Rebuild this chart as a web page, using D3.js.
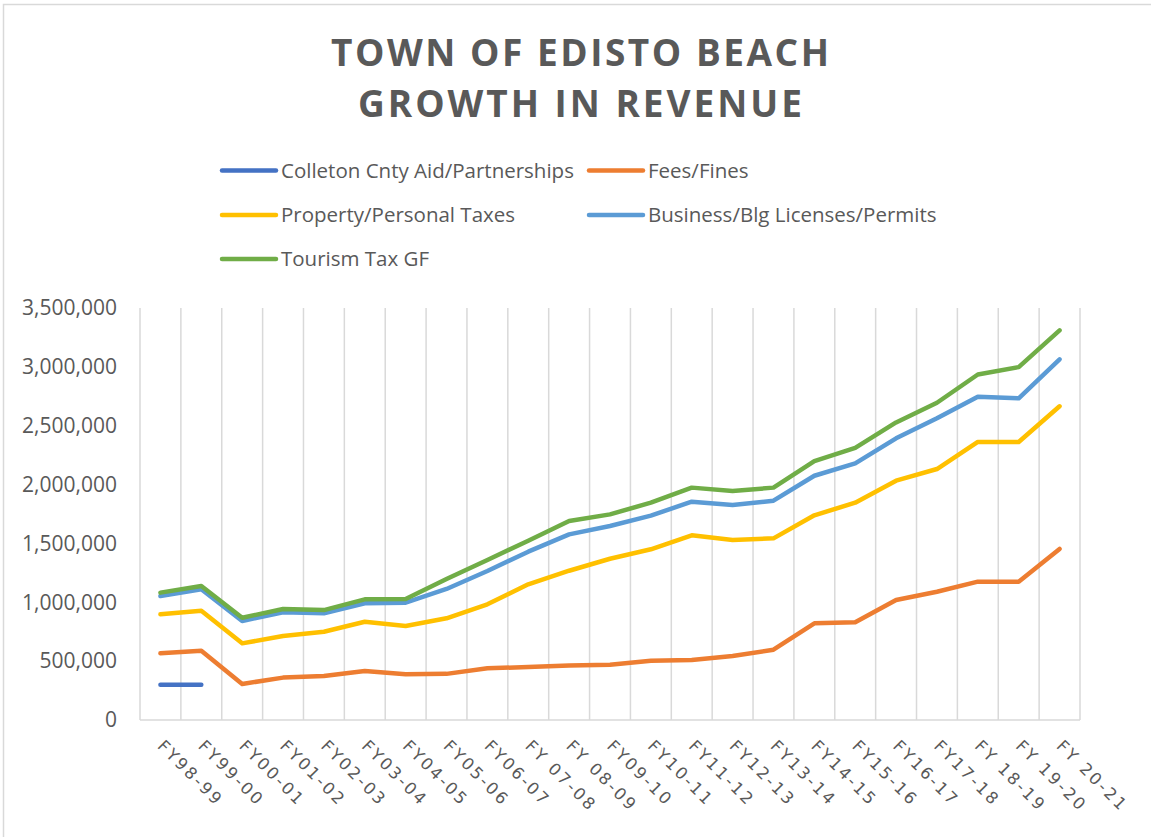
<!DOCTYPE html>
<html>
<head>
<meta charset="utf-8">
<script src="https://cdn.jsdelivr.net/npm/d3@7"></script>
<style>
  body { margin: 0; background: #fff; }
  svg { display: block; }
</style>
</head>
<body>
<svg width="1151" height="837"></svg>
<script>
// categories (fiscal years)
const years = ["FY98-99", "FY99-00", "FY00-01", "FY01-02", "FY02-03", "FY03-04", "FY04-05",
  "FY05-06", "FY06-07", "FY 07-08", "FY 08-09", "FY09-10", "FY10-11", "FY11-12", "FY12-13",
  "FY13-14", "FY14-15", "FY15-16", "FY16-17", "FY17-18", "FY 18-19", "FY 19-20", "FY 20-21"];

// series values
const colleton = [300000, 300000];
const fees = [567000, 589000, 306000, 360000, 374000, 416000, 388000, 392000, 439000, 450000,
  464000, 470000, 504000, 510000, 544000, 597000, 821000, 830000, 1019000, 1090000, 1175000, 1175000, 1453000];
const property = [898000, 929000, 651000, 714000, 750000, 835000, 799000, 864000, 983000, 1153000,
  1268000, 1370000, 1450000, 1569000, 1529000, 1543000, 1739000, 1846000, 2033000, 2132000, 2362000, 2362000, 2665000];
const business = [1053000, 1110000, 841000, 915000, 906000, 991000, 997000, 1113000, 1266000, 1430000,
  1577000, 1648000, 1736000, 1855000, 1826000, 1863000, 2075000, 2180000, 2393000, 2563000, 2747000, 2733000, 3064000];
const tourism = [1082000, 1138000, 869000, 943000, 934000, 1025000, 1028000, 1198000, 1359000, 1523000,
  1690000, 1747000, 1846000, 1974000, 1945000, 1974000, 2199000, 2312000, 2528000, 2695000, 2935000, 2998000, 3310000];

const yTicks = [0, 500000, 1000000, 1500000, 2000000, 2500000, 3000000, 3500000];

const series = [
  { name: "Colleton Cnty Aid/Partnerships", values: colleton, color: "#4472C4" },
  { name: "Fees/Fines", values: fees, color: "#ED7D31" },
  { name: "Property/Personal Taxes", values: property, color: "#FFC000" },
  { name: "Business/Blg Licenses/Permits", values: business, color: "#5B9BD5" },
  { name: "Tourism Tax GF", values: tourism, color: "#70AD47" }
];

const svg = d3.select("svg");
const textColor = "#595959";
const gridColor = "#d9d9d9";

// chart border
svg.append("rect")
  .attr("x", 3.5).attr("y", 4.5)
  .attr("width", 1200).attr("height", 900)
  .attr("fill", "none").attr("stroke", gridColor).attr("stroke-width", 1.5);

// ---- title
const title = svg.append("g")
  .attr("font-family", "'Open Sans', sans-serif")
  .attr("font-weight", "bold")
  .attr("font-size", 37)
  .attr("fill", textColor)
  .attr("text-anchor", "middle");
title.append("text").attr("x", 580).attr("y", 66).attr("textLength", 498)
  .attr("lengthAdjust", "spacing").text("TOWN OF EDISTO BEACH");
title.append("text").attr("x", 580).attr("y", 117).attr("textLength", 444)
  .attr("lengthAdjust", "spacing").text("GROWTH IN REVENUE");

// ---- scales
const margin = { left: 140, right: 1080, top: 308, bottom: 720 };
const x = d3.scaleBand().domain(years).range([margin.left, margin.right]);
const y = d3.scaleLinear().domain([0, 3500000]).range([margin.bottom, margin.top]);

// vertical gridlines at category boundaries
const bounds = years.map(d => x(d)).concat([margin.right]);
svg.append("g").selectAll("line")
  .data(bounds)
  .join("line")
  .attr("x1", d => d).attr("x2", d => d)
  .attr("y1", margin.top).attr("y2", margin.bottom)
  .attr("stroke", gridColor).attr("stroke-width", 1.5);

// bottom axis line
svg.append("line")
  .attr("x1", margin.left).attr("x2", margin.right)
  .attr("y1", margin.bottom).attr("y2", margin.bottom)
  .attr("stroke", gridColor).attr("stroke-width", 1.5);

// y axis labels
const yAxis = d3.axisLeft(y).tickValues(yTicks).tickFormat(d3.format(",")).tickSize(0).tickPadding(0);
const yg = svg.append("g").attr("transform", "translate(117,0)").call(yAxis);
yg.select(".domain").remove();
yg.selectAll("text")
  .attr("font-family", "'Open Sans', sans-serif")
  .attr("font-size", 21)
  .attr("fill", textColor);

// x axis labels, rotated
svg.append("g").selectAll("text")
  .data(years)
  .join("text")
  .attr("transform", d => `translate(${x(d) + x.bandwidth() / 2 - 4},747) rotate(45)`)
  .attr("font-family", "'DejaVu Sans', sans-serif")
  .attr("font-size", 16.5)
  .attr("letter-spacing", 2.5)
  .attr("fill", textColor)
  .text(d => d);

// ---- lines
const line = d3.line()
  .x((d, i) => x(years[i]) + x.bandwidth() / 2)
  .y(d => y(d));

svg.append("g").selectAll("path")
  .data(series)
  .join("path")
  .attr("d", d => line(d.values))
  .attr("fill", "none")
  .attr("stroke", d => d.color)
  .attr("stroke-width", 4.5)
  .attr("stroke-linejoin", "round")
  .attr("stroke-linecap", "round");

// ---- legend
const legendPos = [[222, 170.5], [589, 170.5], [222, 215], [589, 215], [222, 259]];
const legend = svg.append("g").selectAll("g")
  .data(series)
  .join("g")
  .attr("transform", (d, i) => `translate(${legendPos[i][0]},${legendPos[i][1]})`);
legend.append("line")
  .attr("x1", 0).attr("x2", 54)
  .attr("stroke", d => d.color).attr("stroke-width", 4.5)
  .attr("stroke-linecap", "round");
legend.append("text")
  .attr("x", 59).attr("dy", "0.35em")
  .attr("font-family", "'Open Sans', sans-serif")
  .attr("font-size", 20.5)
  .attr("fill", textColor)
  .text(d => d.name);
</script>
</body>
</html>
